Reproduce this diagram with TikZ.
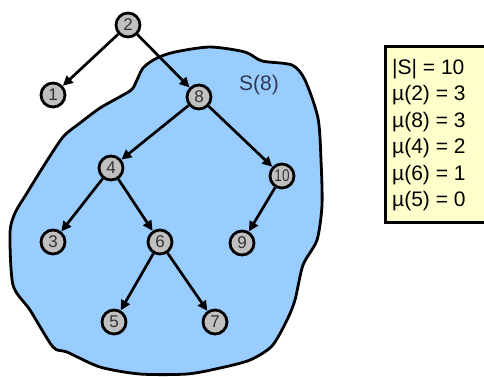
\documentclass[tikz,border=0pt]{standalone}
\usepackage{fontspec}
\setmainfont{Liberation Sans}
\usetikzlibrary{arrows.meta}
\definecolor{blobblue}{HTML}{99CCFF}
\definecolor{nodegray}{HTML}{C0C0C0}
\definecolor{boxyellow}{HTML}{FFFFCC}
\definecolor{labelnavy}{HTML}{2E3A55}
\definecolor{digitgray}{HTML}{333333}
\begin{document}
\begin{tikzpicture}[x=1pt,y=-1pt,
  tn/.style={circle,draw=black,line width=2.8pt,fill=nodegray,minimum size=24pt,inner sep=0pt,
    text=digitgray,font=\fontsize{17}{17}\selectfont},
  arr/.style={line width=2.7pt,-{Triangle[length=10pt,width=9.5pt]}},
  boxst/.style={draw=black,line width=3pt,fill=boxyellow,rectangle,inner sep=0pt},
  boxtext/.style={anchor=base west,inner sep=0pt,font=\fontsize{21}{21}\selectfont},
]
\useasboundingbox (0,0) rectangle (484,376);
\fill[white] (0,0) rectangle (484,376);
% blob S(8)
\draw[line width=2.8pt,fill=blobblue] plot[smooth cycle,tension=0.45] coordinates {
 (157,58) (175,52) (210,47) (245,52) (262,61) (292,65) (305,80) (318,118)
 (321,160) (322,205) (317,240) (303,265) (295,300) (287,320) (272,346)
 (250,360) (220,368) (187,374) (140,374) (100,367) (67,352) (53,347)
 (30,310) (13,285) (10,233) (15,213) (27,193) (43,167) (63,137) (80,123)
 (100,108) (123,95) (133,88) (143,68)};
\node[text=labelnavy,font=\fontsize{21}{21}\selectfont] (s8) at (259,85) {S(8)};
% tree nodes
\node[tn] (n2) at (128,25) {2};
\node[tn] (n1) at (53,95) {1};
\node[tn] (n8) at (199,97) {8};
\node[tn] (n4) at (111,168) {4};
\node[tn] (n10) at (282,176) {\scalebox{0.8}[1]{10}};
\node[tn] (n3) at (53,242) {3};
\node[tn] (n6) at (160,242) {6};
\node[tn] (n9) at (242,243) {9};
\node[tn] (n5) at (114,322) {5};
\node[tn] (n7) at (215,322) {7};
% edges
\draw[arr] (n2) -- (n1);
\draw[arr] (n2) -- (n8);
\draw[arr] (n8) -- (n4);
\draw[arr] (n8) -- (n10);
\draw[arr] (n4) -- (n3);
\draw[arr] (n4) -- (n6);
\draw[arr] (n10) -- (n9);
\draw[arr] (n6) -- (n5);
\draw[arr] (n6) -- (n7);
% info box
\node[boxst,anchor=north west,minimum width=140pt,minimum height=176pt] (box) at (383.5,44.5) {};
\node[boxtext] (l1) at (392,74) {|S| = 10};
\node[boxtext] (l2) at (392,100.5) {µ(2) = 3};
\node[boxtext] (l3) at (392,127) {µ(8) = 3};
\node[boxtext] (l4) at (392,153.5) {µ(4) = 2};
\node[boxtext] (l5) at (392,180) {µ(6) = 1};
\node[boxtext] (l6) at (392,206.5) {µ(5) = 0};
\end{tikzpicture}
\end{document}
